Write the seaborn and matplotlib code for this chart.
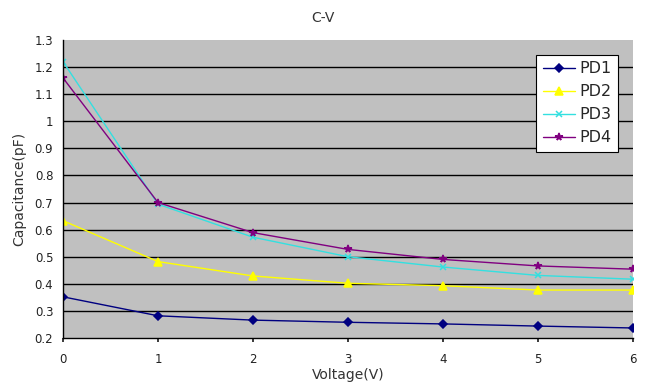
import matplotlib
matplotlib.use("Agg")
import matplotlib.pyplot as plt
import seaborn as sns
import pandas as pd

voltage = [0, 1, 2, 3, 4, 5, 6]
pd1 = [0.352, 0.282, 0.266, 0.258, 0.252, 0.244, 0.237]
pd2 = [0.633, 0.482, 0.429, 0.402, 0.393, 0.377, 0.377]
pd3 = [1.22, 0.694, 0.572, 0.500, 0.462, 0.431, 0.417]
pd4 = [1.16, 0.700, 0.589, 0.527, 0.490, 0.466, 0.454]
series_names = ["PD1", "PD2", "PD3", "PD4"]
y_ticks = [0.2, 0.3, 0.4, 0.5, 0.6, 0.7, 0.8, 0.9, 1.0, 1.1, 1.2, 1.3]
y_tick_labels = ["0.2", "0.3", "0.4", "0.5", "0.6", "0.7", "0.8", "0.9", "1", "1.1", "1.2", "1.3"]

sns.set_theme(style="white")
plt.rcParams["font.family"] = ["DejaVu Sans"]

rows = []
for name, vals in zip(series_names, [pd1, pd2, pd3, pd4]):
    for x, y in zip(voltage, vals):
        rows.append({"Voltage": x, "Capacitance": y, "Series": name})
df = pd.DataFrame(rows)

colors = {"PD1": "#000080", "PD2": "#FFFF00", "PD3": "#33E0E0", "PD4": "#800080"}
markers = {"PD1": "D", "PD2": "^", "PD3": "x", "PD4": "*"}
msizes = {"PD1": 4, "PD2": 5.5, "PD3": 4.5, "PD4": 5.5}

fig = plt.figure(figsize=(6.45, 3.85), dpi=100)
ax = fig.add_axes([63 / 645, 1 - 338 / 385, (633 - 63) / 645, (338 - 40) / 385])
ax.set_facecolor("#C0C0C0")

for name in series_names:
    sub = df[df["Series"] == name]
    sns.lineplot(data=sub, x="Voltage", y="Capacitance", ax=ax, color=colors[name],
                 marker=markers[name], markersize=msizes[name], linewidth=1.0,
                 markeredgecolor=colors[name], markeredgewidth=1.1, label=name)

ax.set_xlim(0, 6)
ax.set_ylim(0.2, 1.3)
ax.set_yticks(y_ticks)
ax.set_yticklabels(y_tick_labels)
ax.set_xticks(voltage)
ax.yaxis.grid(True, color="black", linewidth=1.0)
ax.set_axisbelow(True)
gl = ax.get_ygridlines()
gl[-1].set_visible(False)
gl[0].set_visible(False)
for s in ["top", "right"]:
    ax.spines[s].set_visible(False)
for s in ["left", "bottom"]:
    ax.spines[s].set_color("black")
    ax.spines[s].set_linewidth(1.0)
ax.tick_params(axis="both", labelsize=8.5, colors="#222222", length=3, direction="out")
ax.tick_params(axis="x", bottom=True, pad=8)
ax.tick_params(axis="y", left=False, pad=4)

ax.set_xlabel("Voltage(V)", fontsize=10, color="#333333", labelpad=1)
ax.set_ylabel("Capacitance(pF)", fontsize=10, color="#333333", labelpad=6)
fig.text(0.5, 1 - 18 / 385, "C-V", ha="center", va="center", fontsize=10, color="#333333")

leg = ax.legend(loc="upper right", bbox_to_anchor=(618 / 645, 1 - 55 / 385),
                bbox_transform=fig.transFigure, frameon=True, fancybox=False,
                fontsize=11.5, handlelength=2.0, labelspacing=0.5, borderpad=0.4,
                handletextpad=0.3, borderaxespad=0)
leg.get_frame().set_edgecolor("black")
leg.get_frame().set_facecolor("white")
leg.get_frame().set_alpha(1)
leg.get_frame().set_linewidth(0.8)

fig.savefig("out.png", dpi=100)
